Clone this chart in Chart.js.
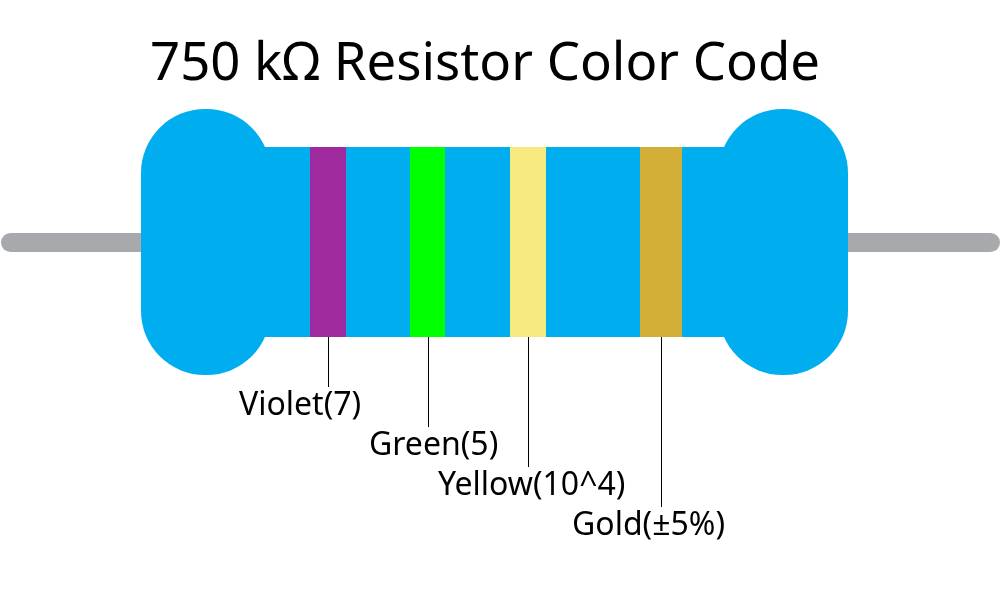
<!DOCTYPE html>
<html>
<head>
<meta charset="utf-8">
<title>750 kΩ Resistor Color Code</title>
<style>
  html, body { margin: 0; padding: 0; background: #fff; overflow: hidden; }
  canvas { display: block; }
</style>
<script src="https://cdn.jsdelivr.net/npm/chart.js@4/dist/chart.umd.min.js"></script>
</head>
<body>
<canvas id="chart" width="1006" height="607"></canvas>
<script>
// all values are in picture units
const titleText = "750 kΩ Resistor Color Code";
const bandNames = ["Violet(7)", "Green(5)", "Yellow(10^4)", "Gold(±5%)"];
const bandColors = ["#9e2a9e", "#00ff00", "#f5e97f", "#d3af37"];
const bandStart = [310, 410, 510, 640];
const bandEnd = [346, 445, 546, 682];
const leaderX = [328.5, 428.5, 528.5, 661.5];
const leaderEnd = [387, 427, 467, 507];
const labelX = [239, 369, 438, 572];
const labelY = [415, 455, 495, 535];
const bodyRange = [147, 337];
const bodyStart = 262, bodyEnd = 728;
const capStart = [141, 718.5];
const capEnd = [270.5, 848];
const capRange = [109, 375];
const leadStart = [1, 830];
const leadEnd = [160, 1000];
const leadRange = [233, 252];

const BLUE = "#00aeef", GREY = "#a7a9ac";

function span(x0, x1, y0, y1, color, order, radius){
  return {
    data: [{x: (x0 + x1) / 2, y: [y0, y1]}],
    backgroundColor: color,
    barThickness: x1 - x0,
    borderRadius: radius || 0,
    borderSkipped: false,
    inflateAmount: 0,
    order: order
  };
}

const datasets = [];
// leads go under everything
leadStart.forEach((s, i) => datasets.push(span(s, leadEnd[i], leadRange[0], leadRange[1], GREY, 5, 9.5)));
datasets.push(span(bodyStart, bodyEnd, bodyRange[0], bodyRange[1], BLUE, 4));
capStart.forEach((s, i) => datasets.push(span(s, capEnd[i], capRange[0], capRange[1], BLUE, 3, 64)));
bandColors.forEach((c, i) => datasets.push(span(bandStart[i], bandEnd[i], bodyRange[0], bodyRange[1], c, 2)));
leaderX.forEach((x, i) => datasets.push(span(x - 0.5, x + 0.5, bodyRange[1], leaderEnd[i], "#000", 1)));

const textPlugin = {
  id: "resistorText",
  afterDatasetsDraw(chart){
    const {ctx, scales: {x, y}} = chart;
    ctx.save();
    ctx.fillStyle = "#000";
    ctx.textBaseline = "alphabetic";
    ctx.textAlign = "left";
    ctx.font = '52.7px "Noto Sans"';
    ctx.fillText(titleText, x.getPixelForValue(150), y.getPixelForValue(80));
    ctx.font = '32px "Noto Sans"';
    bandNames.forEach((t, i) => ctx.fillText(t, x.getPixelForValue(labelX[i]), y.getPixelForValue(labelY[i])));
    ctx.restore();
  }
};

new Chart(document.getElementById("chart"), {
  type: "bar",
  data: {datasets: datasets},
  plugins: [textPlugin],
  options: {
    responsive: false,
    animation: false,
    grouped: false,
    layout: {padding: 0},
    plugins: {legend: {display: false}, title: {display: false}, tooltip: {enabled: false}},
    scales: {
      x: {type: "linear", min: 0, max: 1006, display: false, offset: false},
      y: {type: "linear", min: 0, max: 607, reverse: true, display: false}
    }
  }
});
</script>
</body>
</html>
